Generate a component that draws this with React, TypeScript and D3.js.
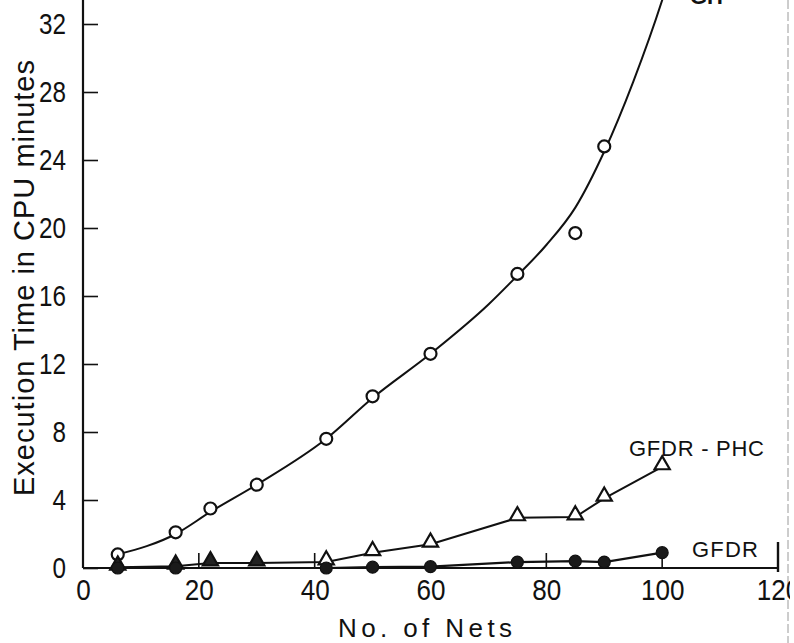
import React, { useRef, useEffect } from 'react';
import * as d3 from 'd3';

// measured points (No. of Nets vs CPU minutes)
const ghNets = [6, 16, 22, 30, 42, 50, 60, 75, 85, 90];
const ghTime = [0.8, 2.1, 3.5, 4.9, 7.6, 10.1, 12.6, 17.3, 19.7, 24.8];

// hand drawn fit through the GH points
const ghFitNets = [6, 16, 22, 30, 42, 50, 60, 70, 75, 80, 85, 90, 95, 100, 102];
const ghFitTime = [0.8, 2.0, 3.3, 4.9, 7.6, 10.0, 12.6, 15.5, 17.2, 19.0, 21.2, 24.5, 28.6, 33.4, 35.6];

const phcNets = [6, 16, 22, 30, 42, 50, 60, 75, 85, 90, 100];
const phcTime = [0.05, 0.1, 0.3, 0.3, 0.35, 0.9, 1.4, 2.95, 3.0, 4.1, 5.95];

const gfdrNets = [6, 16, 42, 50, 60, 75, 85, 90, 100];
const gfdrTime = [0, 0, 0, 0.05, 0.08, 0.35, 0.4, 0.35, 0.9];

const xTicks = [0, 20, 40, 60, 80, 100, 120];
const xTickMarks = [20, 40, 80, 100];
const yTicks = [0, 4, 8, 12, 16, 20, 24, 28, 32];

const FONT = "'Liberation Sans', Arial, sans-serif";

const Chart = () => {
  const svgRef = useRef<SVGSVGElement>(null);

  useEffect(() => {
    const svg = d3.select(svgRef.current);
    svg.selectAll('*').remove();

    const x = d3.scaleLinear().domain([0, 120]).range([83, 778]);
    const y = d3.scaleLinear().domain([0, 32]).range([568, 24]);

    svg.append('rect').attr('width', 794).attr('height', 643).attr('fill', '#fff');

    // scan border on the right
    svg.append('line')
      .attr('x1', 788).attr('x2', 788).attr('y1', 0).attr('y2', 643)
      .attr('stroke', '#9a9a9a').attr('stroke-width', 1).attr('stroke-dasharray', '9 3');

    // axes lines
    svg.append('line')
      .attr('x1', x(0)).attr('x2', x(0)).attr('y1', y(0)).attr('y2', 0)
      .attr('stroke', '#111').attr('stroke-width', 2.2);
    svg.append('line')
      .attr('x1', x(0)).attr('x2', x(120)).attr('y1', y(0)).attr('y2', y(0))
      .attr('stroke', '#111').attr('stroke-width', 2.2);
    svg.append('line')
      .attr('x1', x(120)).attr('x2', x(120)).attr('y1', y(0) + 4).attr('y2', y(0) - 26)
      .attr('stroke', '#111').attr('stroke-width', 2.4);
    svg.append('g')
      .selectAll('line')
      .data(xTickMarks)
      .join('line')
      .attr('x1', d => x(d)).attr('x2', d => x(d))
      .attr('y1', y(0)).attr('y2', y(0) - 15)
      .attr('stroke', '#111').attr('stroke-width', 1.6);

    // condensed digits like the typeset original
    const condense = (sel, w) => sel
      .attr('font-family', FONT).attr('font-size', 30).attr('fill', '#111')
      .attr('textLength', d => String(d).length * w)
      .attr('lengthAdjust', 'spacingAndGlyphs');

    // y axis, ticks pointing inwards
    const yAxis = svg.append('g')
      .attr('transform', `translate(${x(0)},0)`)
      .call(d3.axisLeft(y).tickValues(yTicks).tickSizeInner(-15).tickSizeOuter(0).tickPadding(17));
    yAxis.select('.domain').remove();
    yAxis.selectAll('line').attr('stroke', '#111').attr('stroke-width', 1.6);
    condense(yAxis.selectAll('text'), 13.5);

    // x axis labels
    const xAxis = svg.append('g')
      .attr('transform', `translate(0,${y(0)})`)
      .call(d3.axisBottom(x).tickValues(xTicks).tickSize(0).tickPadding(11));
    xAxis.select('.domain').remove();
    condense(xAxis.selectAll('text'), 14.5);

    // axis titles
    svg.append('text')
      .attr('transform', 'translate(34,278) rotate(-90)')
      .attr('text-anchor', 'middle')
      .attr('font-family', FONT).attr('font-size', 29).attr('fill', '#111')
      .attr('textLength', 436).attr('lengthAdjust', 'spacing')
      .text('Execution Time in CPU minutes');
    svg.append('text')
      .attr('x', 425).attr('y', 637)
      .attr('text-anchor', 'middle')
      .attr('font-family', FONT).attr('font-size', 26).attr('fill', '#111')
      .attr('textLength', 174).attr('lengthAdjust', 'spacing')
      .text('No. of Nets');

    const plot = svg.append('g');

    // GH fitted curve
    const ghFit = ghFitNets.map((n, i) => [n, ghFitTime[i]]);
    plot.append('path')
      .datum(ghFit)
      .attr('fill', 'none').attr('stroke', '#111').attr('stroke-width', 2)
      .attr('d', d3.line().x(d => x(d[0])).y(d => y(d[1])).curve(d3.curveMonotoneX));

    // GFDR-PHC polyline
    const phc = phcNets.map((n, i) => [n, phcTime[i]]);
    plot.append('path')
      .datum(phc)
      .attr('fill', 'none').attr('stroke', '#111').attr('stroke-width', 2)
      .attr('d', d3.line().x(d => x(d[0])).y(d => y(d[1])));

    // GFDR polyline
    const gfdr = gfdrNets.map((n, i) => [n, gfdrTime[i]]);
    plot.append('path')
      .datum(gfdr)
      .attr('fill', 'none').attr('stroke', '#111').attr('stroke-width', 2.2)
      .attr('d', d3.line().x(d => x(d[0])).y(d => y(d[1])));

    // GH open circles
    plot.append('g')
      .selectAll('circle')
      .data(ghNets.map((n, i) => [n, ghTime[i]]))
      .join('circle')
      .attr('cx', d => x(d[0])).attr('cy', d => y(d[1])).attr('r', 6)
      .attr('fill', '#fff').attr('stroke', '#111').attr('stroke-width', 2.2);

    // GFDR-PHC triangles (first ones sit on the axis and look filled)
    const tri = d3.symbol().type(d3.symbolTriangle).size(100);
    plot.append('g')
      .selectAll('path')
      .data(phc)
      .join('path')
      .attr('transform', d => `translate(${x(d[0])},${y(d[1]) - 2})`)
      .attr('d', tri)
      .attr('fill', d => (d[0] < 40 ? '#222' : '#fff'))
      .attr('stroke', '#111').attr('stroke-width', 2.2);

    // GFDR filled circles
    plot.append('g')
      .selectAll('circle')
      .data(gfdr)
      .join('circle')
      .attr('cx', d => x(d[0])).attr('cy', d => y(d[1])).attr('r', 6)
      .attr('fill', '#1a1a1a').attr('stroke', '#111').attr('stroke-width', 1.2);

    // series labels
    svg.append('text')
      .attr('x', 690).attr('y', 4)
      .attr('font-family', FONT).attr('font-size', 22).attr('font-weight', 'bold').attr('fill', '#111')
      .text('GH');
    svg.append('text')
      .attr('x', 629).attr('y', 456)
      .attr('font-family', FONT).attr('font-size', 22).attr('fill', '#111')
      .attr('textLength', 135).attr('lengthAdjust', 'spacing')
      .text('GFDR - PHC');
    svg.append('text')
      .attr('x', 692).attr('y', 557)
      .attr('font-family', FONT).attr('font-size', 22).attr('fill', '#111')
      .attr('textLength', 66).attr('lengthAdjust', 'spacing')
      .text('GFDR');
  }, []);

  return (
    <svg ref={svgRef} width={790} height={643}
      style={{ position: 'absolute', left: 0, top: 0, display: 'block' }} />
  );
};

export default function App() {
  return <Chart />;
}
